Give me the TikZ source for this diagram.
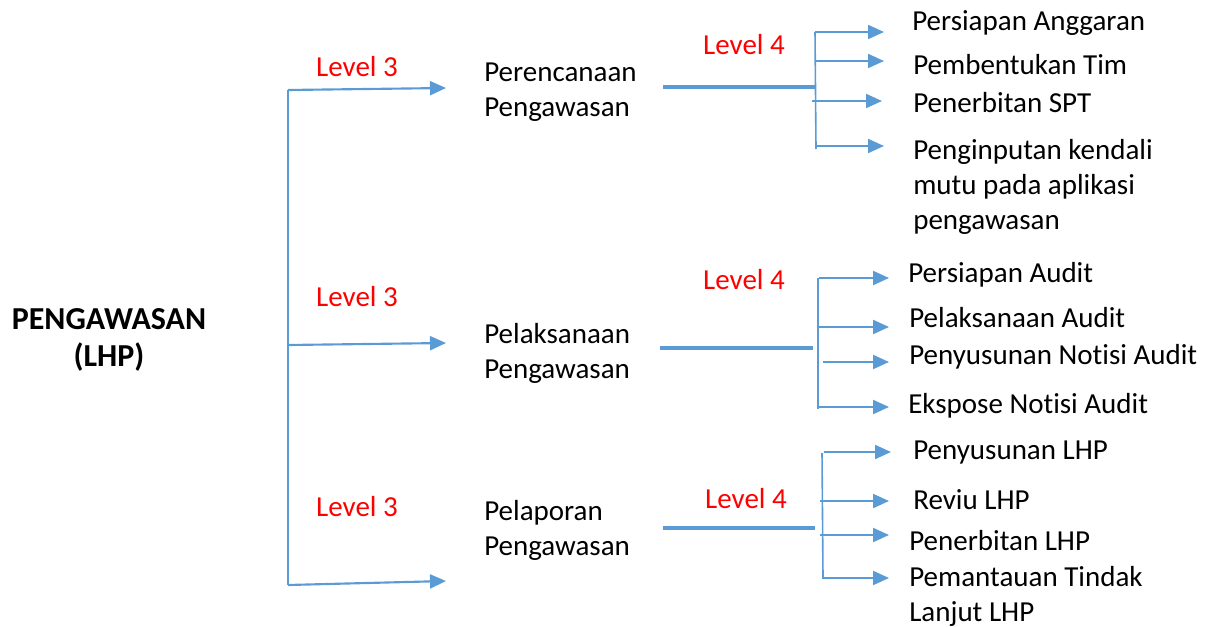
\documentclass[tikz,border=0pt]{standalone}
\usepackage{fontspec}
\setmainfont{Carlito}[Ligatures=NoCommon]
\usetikzlibrary{arrows.meta}
\definecolor{lineblue}{HTML}{5B9BD5}
\begin{document}
\begin{tikzpicture}[x=0.75pt,y=-0.75pt,
  txt/.style={anchor=west,inner sep=0pt,align=left,font=\fontsize{21.75}{26.3}\selectfont},
  lvl/.style={inner sep=0pt,text=red,font=\fontsize{21.75}{26.3}\selectfont},
  arr/.style={draw=lineblue,line width=1.6pt,-{Triangle[length=12pt,width=10.5pt]}},
  thick4/.style={draw=lineblue,line width=2.4pt},
  vline/.style={draw=lineblue,line width=1.2pt}]
\useasboundingbox (0,0) rectangle (1219,627);
% root
\node[inner sep=0pt,align=center,font=\fontsize{24}{27.75}\selectfont\bfseries] (root) at (109,340) {PENGAWASAN\\(LHP)};
% main trunk
\coordinate (t1) at (288,90);
\coordinate (t2) at (288,345);
\coordinate (t3) at (288,585);
\draw[vline] (t1) -- (t3);
\coordinate (a1) at (446,88);
\coordinate (a2) at (446,343);
\coordinate (a3) at (446,581);
\draw[arr] (t1) -- (a1);
\draw[arr] (t2) -- (a2);
\draw[arr] (t3) -- (a3);
\node[lvl] (l31) at (357,67) {Level 3};
\node[lvl] (l32) at (357,297) {Level 3};
\node[lvl] (l33) at (357,507) {Level 3};
% level 3 nodes
\node[txt] (n1) at (484,92) {Perencanaan\\Pengawasan};
\node[txt] (n2) at (484,353) {Pelaksanaan\\Pengawasan};
\node[txt] (n3) at (484,530) {Pelaporan\\Pengawasan};
% level 4 stubs
\coordinate (s1a) at (663,87); \coordinate (s1b) at (815,87);
\coordinate (s2a) at (660,348); \coordinate (s2b) at (813,348);
\coordinate (s3a) at (663,528); \coordinate (s3b) at (815,528);
\draw[thick4] (s1a) -- (s1b);
\draw[thick4] (s2a) -- (s2b);
\draw[thick4] (s3a) -- (s3b);
\node[lvl] (l41) at (744,45) {Level 4};
\node[lvl] (l42) at (744,280) {Level 4};
\node[lvl] (l43) at (746,499) {Level 4};
% group 1
\coordinate (v1t) at (815,32); \coordinate (v1b) at (816,149);
\draw[vline] (v1t) -- (v1b);
\coordinate (b11) at (815,32); \coordinate (e11) at (884,32);
\coordinate (b12) at (815,61); \coordinate (e12) at (884,61);
\coordinate (b13) at (812,101); \coordinate (e13) at (882,101);
\coordinate (b14) at (815,146); \coordinate (e14) at (884,146);
\foreach \i in {11,12,13,14} \draw[arr] (b\i) -- (e\i);
\node[txt] (c11) at (912,23) {Persiapan Anggaran};
\node[txt] (c12) at (913,65) {Pembentukan Tim};
\node[txt] (c13) at (913,103) {Penerbitan SPT};
\node[txt] (c14) at (913,187) {Penginputan kendali\\mutu pada aplikasi\\pengawasan};
% group 2
\coordinate (v2t) at (818,278); \coordinate (v2b) at (818,409);
\draw[vline] (v2t) -- (v2b);
\coordinate (b21) at (819,278); \coordinate (e21) at (889,278);
\coordinate (b22) at (818,327); \coordinate (e22) at (889,327);
\coordinate (b23) at (823,362); \coordinate (e23) at (889,362);
\coordinate (b24) at (818,407); \coordinate (e24) at (889,407);
\foreach \i in {21,22,23,24} \draw[arr] (b\i) -- (e\i);
\node[txt] (c21) at (908,275) {Persiapan Audit};
\node[txt] (c22) at (909,318) {Pelaksanaan Audit};
\node[txt] (c23) at (909,357) {Penyusunan Notisi Audit};
\node[txt] (c24) at (908,406) {Ekspose Notisi Audit};
% group 3
\coordinate (v3t) at (822,453); \coordinate (v3b) at (823,578);
\draw[vline] (v3t) -- (v3b);
\coordinate (b31) at (824,452); \coordinate (e31) at (891,452);
\coordinate (b32) at (820,501); \coordinate (e32) at (889,501);
\coordinate (b33) at (820,535); \coordinate (e33) at (889,535);
\coordinate (b34) at (822,578); \coordinate (e34) at (889,578);
\foreach \i in {31,32,33,34} \draw[arr] (b\i) -- (e\i);
\node[txt] (c31) at (913,453) {Penyusunan LHP};
\node[txt] (c32) at (913,500) {Reviu LHP};
\node[txt] (c33) at (909,541) {Penerbitan LHP};
\node[txt] (c34) at (909,596) {Pemantauan Tindak\\Lanjut LHP};
\end{tikzpicture}
\end{document}
